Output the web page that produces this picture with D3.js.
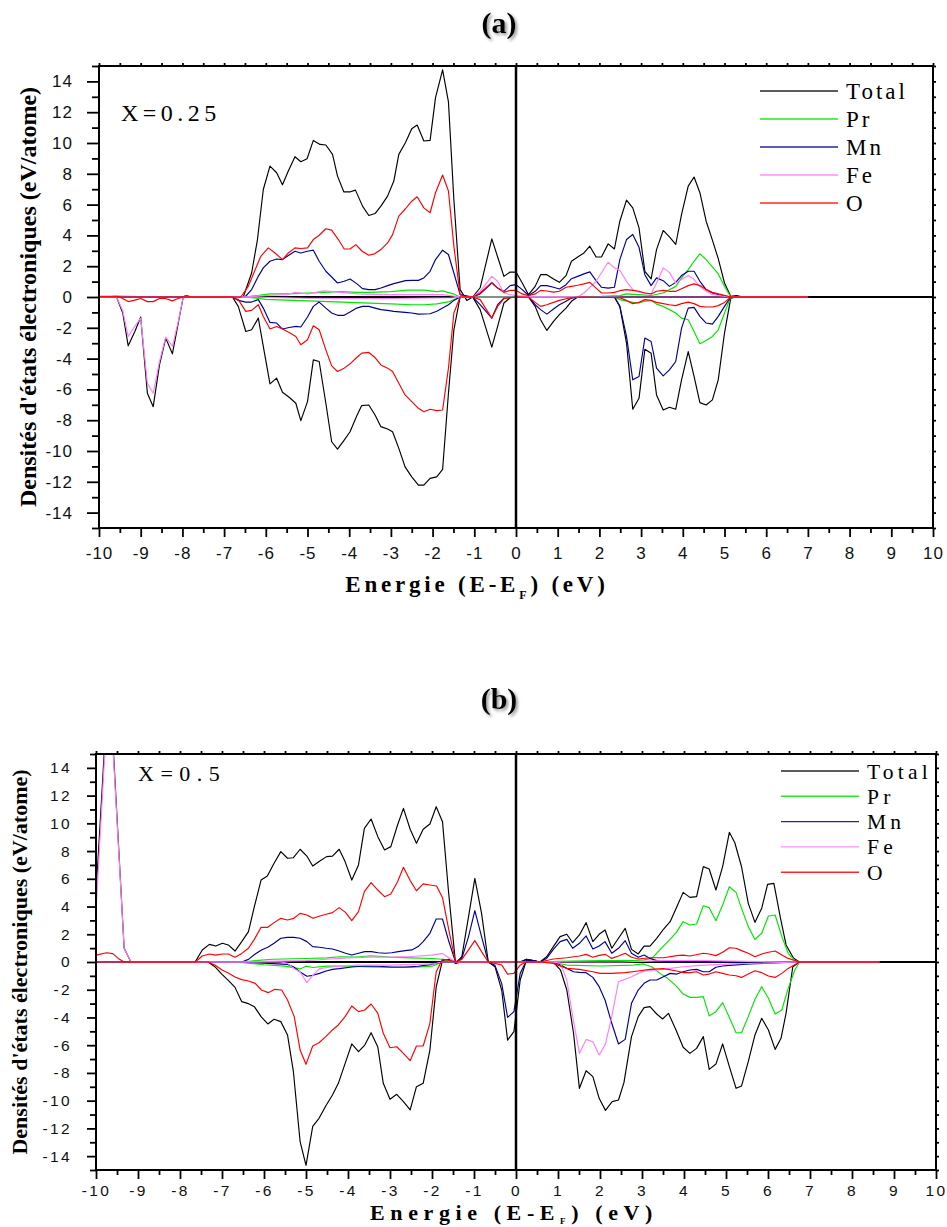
<!DOCTYPE html>
<html><head><meta charset="utf-8">
<script src="https://cdn.jsdelivr.net/npm/d3@7"></script>
<style>body{margin:0;background:#fff}svg{display:block}</style>
</head><body>
<svg id="c" width="947" height="1227"></svg>
<script>
// ---------- DATA : Panel (a) X = 0.25  ([E (eV), DOS]) ----------
const a_total_up = [[-10,0],[-9.58,0.05],[-8.0,0],[-7.9,0.1],[-7.8,0],[-6.54,0],[-6.34,1.56],[-6.20,3.73],[-6.06,6.98],[-5.90,8.5],[-5.74,8.07],[-5.60,7.29],[-5.46,8.18],[-5.30,9.11],[-5.16,8.78],[-5.01,8.98],[-4.86,10.17],[-4.70,9.91],[-4.56,9.87],[-4.40,9.26],[-4.28,7.85],[-4.13,6.83],[-3.97,6.83],[-3.85,6.94],[-3.68,5.90],[-3.53,5.29],[-3.38,5.42],[-3.24,5.90],[-3.08,6.55],[-2.93,7.53],[-2.81,9.26],[-2.65,10.03],[-2.50,10.93],[-2.37,11.17],[-2.21,10.13],[-2.06,10.17],[-1.93,12.95],[-1.76,14.75],[-1.62,12.67],[-1.49,6.33],[-1.34,0.48],[-1.18,-0.22],[-1.04,0],[-0.86,0.6],[-0.58,3.77],[-0.44,2.6],[-0.29,1.34],[-0.14,1.62],[0,1.62],[0.15,0.91],[0.30,0.15],[0.46,0.69],[0.59,1.45],[0.74,1.45],[0.90,1.17],[1.04,0.95],[1.20,1.39],[1.33,2.32],[1.48,2.60],[1.63,2.86],[1.77,3.30],[1.92,2.60],[2.05,2.60],[2.21,3.45],[2.36,3.12],[2.49,4.92],[2.65,6.29],[2.80,5.79],[2.95,4.49],[3.09,1.67],[3.24,1.17],[3.37,3.08],[3.53,4.32],[3.68,3.90],[3.83,3.41],[3.97,5.36],[4.13,7.20],[4.27,7.79],[4.41,6.77],[4.56,4.92],[4.71,3.69],[4.85,2.49],[5.00,0.91],[5.15,0.04],[5.29,0.1],[5.45,0],[7,0]];
const a_total_dn = [[-10,0],[-9.58,0],[-9.43,-1.04],[-9.30,-3.17],[-9.14,-2.24],[-9.00,-1.30],[-8.84,-6.25],[-8.70,-7.12],[-8.55,-4.41],[-8.40,-2.67],[-8.24,-3.69],[-8.10,-1.69],[-7.98,0],[-6.80,0],[-6.66,-0.61],[-6.48,-2.24],[-6.34,-2.13],[-6.18,-1.37],[-6.06,-3.21],[-5.90,-5.64],[-5.74,-5.27],[-5.60,-6.19],[-5.44,-6.51],[-5.28,-6.9],[-5.16,-8.03],[-5.00,-6.79],[-4.86,-4.08],[-4.72,-4.19],[-4.56,-6.9],[-4.42,-9.4],[-4.28,-9.88],[-4.12,-9.29],[-3.98,-8.75],[-3.82,-7.73],[-3.70,-7.05],[-3.53,-7.01],[-3.38,-7.66],[-3.24,-8.42],[-3.08,-8.57],[-2.96,-8.75],[-2.81,-9.83],[-2.66,-11.03],[-2.50,-11.68],[-2.34,-12.22],[-2.21,-12.22],[-2.06,-11.78],[-1.90,-11.68],[-1.76,-11.2],[-1.62,-6.25],[-1.49,-2.13],[-1.34,0],[-1.04,0],[-0.86,-0.82],[-0.58,-3.26],[-0.44,-1.91],[-0.29,-0.39],[-0.14,-0.05],[0,0],[0.30,0],[0.46,-0.61],[0.59,-1.48],[0.74,-2.17],[0.90,-1.58],[1.04,-1.15],[1.20,-0.72],[1.33,-0.28],[1.48,0],[2.36,0],[2.49,-0.61],[2.65,-2.99],[2.80,-7.29],[2.95,-6.58],[3.09,-3.39],[3.24,-3.65],[3.37,-6.36],[3.53,-7.34],[3.68,-7.16],[3.83,-7.29],[3.97,-5.38],[4.13,-3.54],[4.27,-5.16],[4.41,-6.86],[4.56,-7.01],[4.71,-6.68],[4.85,-5.38],[5.00,-2.34],[5.15,-0.07],[5.29,0],[7,0]];
const a_pr_up = [[-10,0],[-6.5,0],[-6.2,0.1],[-5.9,0.2],[-5.5,0.2],[-5.0,0.25],[-4.6,0.3],[-4.2,0.35],[-3.8,0.3],[-3.5,0.3],[-3.0,0.35],[-2.6,0.45],[-2.2,0.45],[-1.9,0.35],[-1.76,0.4],[-1.5,0.2],[-1.34,0],[2.0,0],[2.05,0.04],[2.49,0.09],[2.65,0.2],[2.95,0.15],[3.24,0.1],[3.53,0.26],[3.83,0.69],[3.97,1.24],[4.13,1.78],[4.27,2.32],[4.41,2.80],[4.56,2.43],[4.71,1.95],[4.85,1.50],[5.0,0.69],[5.15,0],[7,0]];
const a_pr_dn = [[-10,0],[-6.5,0],[-6.0,-0.15],[-5.5,-0.2],[-5.0,-0.25],[-4.5,-0.3],[-4.0,-0.35],[-3.5,-0.4],[-3.0,-0.45],[-2.5,-0.5],[-2.2,-0.5],[-1.9,-0.45],[-1.6,-0.3],[-1.34,0],[2.36,0],[2.49,-0.17],[2.80,-0.35],[2.95,-0.39],[3.09,-0.28],[3.24,-0.22],[3.37,-0.46],[3.53,-0.61],[3.68,-0.82],[3.83,-1.04],[3.97,-1.37],[4.13,-1.48],[4.27,-2.24],[4.41,-3.04],[4.56,-2.82],[4.71,-2.56],[4.85,-2.13],[5.0,-1.04],[5.15,0],[7,0]];
const a_mn_up = [[-10,0],[-6.50,0],[-6.34,0.48],[-6.18,1.34],[-6.06,1.89],[-5.90,2.32],[-5.74,2.47],[-5.60,2.43],[-5.46,2.69],[-5.30,2.97],[-5.16,2.86],[-5.00,2.97],[-4.86,3.04],[-4.72,2.32],[-4.56,1.67],[-4.42,1.30],[-4.28,0.91],[-4.12,1.02],[-3.98,1.17],[-3.82,0.87],[-3.68,0.54],[-3.53,0.48],[-3.38,0.48],[-3.24,0.58],[-3.08,0.74],[-2.93,0.87],[-2.81,0.95],[-2.65,1.06],[-2.50,1.08],[-2.34,1.08],[-2.21,1.24],[-2.06,1.67],[-1.93,2.43],[-1.76,3.04],[-1.62,2.76],[-1.49,1.56],[-1.34,0.15],[-1.04,0],[-0.86,0.2],[-0.58,0.91],[-0.44,0.58],[-0.29,0.37],[-0.14,0.74],[0,0.80],[0.15,0.48],[0.30,0.1],[0.46,0.37],[0.59,0.74],[0.74,0.74],[0.90,0.63],[1.04,0.52],[1.20,0.80],[1.33,1.19],[1.48,1.34],[1.63,1.50],[1.77,1.63],[1.92,1.06],[2.05,0.63],[2.21,0.58],[2.36,0.63],[2.49,2.43],[2.65,3.73],[2.80,4.06],[2.95,3.23],[3.09,1.45],[3.24,0.74],[3.37,1.24],[3.53,1.06],[3.68,0.69],[3.83,0.95],[3.97,1.39],[4.13,1.67],[4.27,1.67],[4.41,1.02],[4.56,0.48],[4.71,0.26],[4.85,0.15],[5.15,0],[7,0]];
const a_mn_dn = [[-10,0],[-6.80,0],[-6.66,-0.22],[-6.48,-0.33],[-6.34,-0.33],[-6.18,-0.17],[-6.06,-0.72],[-5.90,-1.65],[-5.74,-1.69],[-5.60,-2.08],[-5.44,-1.98],[-5.28,-1.91],[-5.16,-1.95],[-5.00,-1.30],[-4.86,-0.61],[-4.72,-0.33],[-4.56,-0.72],[-4.42,-1.04],[-4.28,-1.19],[-4.12,-1.19],[-3.98,-0.98],[-3.82,-0.72],[-3.68,-0.61],[-3.53,-0.61],[-3.38,-0.72],[-3.24,-0.82],[-3.08,-0.87],[-2.93,-0.93],[-2.66,-1.0],[-2.50,-1.04],[-2.34,-1.11],[-2.06,-1.09],[-1.90,-0.93],[-1.76,-0.72],[-1.62,-0.5],[-1.49,-0.22],[-1.34,0],[-1.04,0],[-0.86,-0.5],[-0.58,-1.37],[-0.44,-0.5],[-0.29,-0.07],[0,0],[0.30,0],[0.46,-0.5],[0.59,-0.82],[0.74,-1.11],[0.90,-0.78],[1.04,-0.5],[1.20,-0.28],[1.33,-0.07],[1.48,0],[2.36,0],[2.49,-0.61],[2.65,-2.56],[2.80,-5.38],[2.95,-5.16],[3.09,-2.67],[3.24,-2.89],[3.37,-4.62],[3.53,-5.12],[3.68,-4.73],[3.83,-4.19],[3.97,-2.02],[4.13,-0.72],[4.27,-0.67],[4.41,-1.26],[4.56,-1.69],[4.71,-1.76],[4.85,-1.26],[5.00,-0.61],[5.15,0],[7,0]];
const a_fe_up = [[-10,0],[-8.0,0],[-7.9,0.1],[-7.8,0],[-6.5,0],[-6.0,0.1],[-5.5,0.15],[-5.3,0.3],[-5.0,0.2],[-4.6,0.4],[-4.2,0.3],[-3.8,0.2],[-3.2,0.15],[-2.5,0.15],[-2.0,0.15],[-1.76,0.15],[-1.34,0],[-1.04,0],[-0.86,0.37],[-0.58,1.34],[-0.44,1.02],[-0.29,0.26],[-0.14,0.15],[0,0.1],[0.30,0.02],[1.48,0],[1.63,0.26],[1.92,1.02],[2.21,2.26],[2.36,1.89],[2.49,1.73],[2.65,1.02],[2.80,0.48],[2.95,0.3],[3.09,0.26],[3.24,0.2],[3.37,0.91],[3.53,1.89],[3.68,1.60],[3.83,0.91],[3.97,1.13],[4.13,1.39],[4.27,1.13],[4.41,0.69],[4.56,0.37],[4.71,0.15],[5.15,0],[7,0]];
const a_fe_dn = [[-10,0],[-9.58,0],[-9.43,-0.9],[-9.30,-2.56],[-9.14,-1.9],[-9.00,-1.37],[-8.84,-5.6],[-8.70,-6.25],[-8.55,-4.2],[-8.40,-2.6],[-8.24,-3.2],[-8.10,-1.6],[-7.98,0],[-6.5,0],[-5.0,-0.08],[-3.0,-0.1],[-1.5,-0.05],[-1.34,0],[7,0]];
const a_o_up = [[-10,0.05],[-9.6,0.05],[-9.5,0],[-8.0,0],[-7.9,0.1],[-7.8,0],[-6.6,0],[-6.42,0.69],[-6.27,1.67],[-6.12,2.64],[-5.94,3.19],[-5.78,2.86],[-5.60,2.43],[-5.46,2.86],[-5.30,3.19],[-5.16,3.15],[-5.00,3.19],[-4.86,3.73],[-4.72,4.01],[-4.56,4.43],[-4.42,4.34],[-4.26,3.73],[-4.12,3.12],[-3.98,3.12],[-3.84,3.40],[-3.69,2.97],[-3.53,2.71],[-3.38,2.82],[-3.24,3.08],[-3.08,3.51],[-2.96,4.05],[-2.81,5.25],[-2.65,5.73],[-2.50,6.22],[-2.37,6.51],[-2.21,5.79],[-2.06,5.47],[-1.93,6.77],[-1.76,7.92],[-1.62,6.88],[-1.49,3.30],[-1.34,0.15],[-1.18,0],[-1.04,0],[-0.86,0.26],[-0.58,0.95],[-0.44,0.58],[-0.29,0.3],[-0.14,0.43],[0,0.43],[0.15,0.2],[0.30,0.08],[0.46,0.2],[0.59,0.43],[0.74,0.39],[0.90,0.32],[1.04,0.37],[1.20,0.63],[1.33,0.69],[1.48,0.76],[1.63,0.85],[1.77,0.95],[1.92,0.58],[2.05,0.26],[2.21,0.26],[2.36,0.3],[2.49,0.41],[2.65,0.48],[2.80,0.43],[2.95,0.37],[3.09,0.26],[3.24,0.2],[3.37,0.37],[3.53,0.43],[3.68,0.37],[3.83,0.37],[3.97,0.54],[4.13,0.74],[4.27,0.85],[4.41,0.74],[4.56,0.48],[4.71,0.3],[4.85,0.2],[5.15,0],[7,0]];
const a_o_dn = [[-10,0],[-9.5,0],[-9.30,-0.3],[-9.14,-0.2],[-9.0,-0.1],[-8.84,-0.3],[-8.70,-0.3],[-8.55,-0.1],[-8.40,-0.1],[-8.24,-0.25],[-8.10,-0.1],[-7.98,0],[-6.80,0],[-6.66,-0.17],[-6.48,-0.93],[-6.34,-0.87],[-6.18,-0.50],[-6.06,-1.26],[-5.90,-2.08],[-5.74,-1.91],[-5.60,-2.08],[-5.44,-2.30],[-5.28,-2.56],[-5.16,-3.10],[-5.00,-2.78],[-4.86,-1.87],[-4.72,-2.13],[-4.56,-3.43],[-4.42,-4.47],[-4.28,-4.84],[-4.12,-4.62],[-3.98,-4.34],[-3.82,-3.93],[-3.70,-3.64],[-3.53,-3.60],[-3.38,-3.93],[-3.24,-4.41],[-3.08,-4.62],[-2.96,-4.84],[-2.81,-5.60],[-2.66,-6.36],[-2.50,-6.79],[-2.34,-7.23],[-2.21,-7.45],[-2.06,-7.29],[-1.90,-7.38],[-1.76,-7.34],[-1.62,-4.62],[-1.49,-1.04],[-1.34,0],[-1.04,0],[-0.86,-0.17],[-0.58,-1.37],[-0.44,-0.61],[-0.29,-0.1],[0,0],[0.30,0],[0.46,-0.35],[0.59,-0.61],[0.74,-0.5],[0.90,-0.35],[1.04,-0.22],[1.20,-0.11],[1.48,0],[2.49,-0.05],[2.65,-0.22],[2.80,-0.43],[2.95,-0.35],[3.09,-0.17],[3.24,-0.22],[3.37,-0.35],[3.53,-0.43],[3.68,-0.5],[3.83,-0.56],[3.97,-0.43],[4.13,-0.33],[4.27,-0.43],[4.41,-0.61],[4.56,-0.65],[4.71,-0.65],[4.85,-0.56],[5.00,-0.35],[5.15,0],[7,0]];

// ---------- DATA : Panel (b) X = 0.5 ----------
const b_total_up = [[-10,4.9],[-9.69,21],[-9.33,1.0],[-9.17,0],[-7.64,0],[-7.47,0.87],[-7.30,1.27],[-7.15,1.15],[-6.99,1.35],[-6.85,1.23],[-6.69,0.79],[-6.53,1.47],[-6.37,2.19],[-6.23,3.99],[-6.07,5.91],[-5.92,6.20],[-5.76,7.12],[-5.60,7.96],[-5.44,7.48],[-5.30,7.52],[-5.14,8.13],[-4.98,7.64],[-4.84,6.92],[-4.67,7.28],[-4.51,7.60],[-4.37,7.64],[-4.21,8.13],[-4.07,7.24],[-3.91,5.91],[-3.75,7.0],[-3.61,9.64],[-3.45,10.31],[-3.29,9.04],[-3.13,8.08],[-2.98,8.32],[-2.82,9.88],[-2.68,11.08],[-2.52,9.57],[-2.37,8.56],[-2.21,9.57],[-2.05,9.95],[-1.90,11.2],[-1.75,10.12],[-1.61,5.19],[-1.44,-0.1],[-1.29,0.38],[-1.13,3.27],[-0.98,6.03],[-0.82,3.51],[-0.66,0],[0.10,0],[0.25,0.19],[0.41,0.1],[0.57,0],[0.73,0.38],[0.89,1.11],[1.05,1.83],[1.21,2.0],[1.35,1.39],[1.51,1.95],[1.67,2.84],[1.83,1.47],[1.98,2.0],[2.12,2.31],[2.28,0.99],[2.44,1.71],[2.60,2.43],[2.75,0.91],[2.91,0.58],[3.05,1.15],[3.19,1.15],[3.35,1.71],[3.51,2.36],[3.67,2.91],[3.83,3.99],[3.98,5.02],[4.14,4.66],[4.30,4.71],[4.46,6.88],[4.60,6.71],[4.76,5.19],[4.92,6.88],[5.08,9.35],[5.21,8.6],[5.37,6.87],[5.53,4.23],[5.69,2.86],[5.85,3.87],[5.99,5.6],[6.14,5.67],[6.29,3.27],[6.43,1.23],[6.61,0.27],[6.75,0],[8.65,0]];
const b_total_dn = [[-10,0],[-7.33,0],[-7.17,-0.34],[-7.0,-0.89],[-6.85,-1.32],[-6.69,-1.83],[-6.53,-2.86],[-6.39,-2.98],[-6.23,-3.22],[-6.07,-3.94],[-5.91,-4.47],[-5.76,-4.13],[-5.60,-4.30],[-5.44,-5.26],[-5.30,-7.91],[-5.14,-12.96],[-5.0,-14.66],[-4.84,-11.85],[-4.69,-11.27],[-4.53,-10.38],[-4.37,-9.59],[-4.23,-8.75],[-4.07,-7.33],[-3.91,-5.91],[-3.75,-6.47],[-3.60,-5.99],[-3.45,-5.10],[-3.29,-6.13],[-3.16,-8.75],[-3.0,-9.90],[-2.84,-9.54],[-2.68,-10.07],[-2.52,-10.67],[-2.37,-8.99],[-2.21,-8.75],[-2.05,-6.35],[-1.90,-1.80],[-1.75,0.12],[-1.60,0.19],[-1.44,-0.1],[-1.29,0],[-0.66,0],[-0.50,-0.34],[-0.34,-2.04],[-0.20,-5.63],[-0.05,-5.02],[0.10,-1.30],[0.25,0.14],[0.41,0.1],[0.57,0],[0.89,0],[1.06,-0.58],[1.21,-2.02],[1.37,-5.14],[1.51,-9.11],[1.67,-7.84],[1.83,-8.27],[1.98,-9.83],[2.13,-10.7],[2.29,-10.07],[2.44,-9.95],[2.57,-8.70],[2.75,-5.38],[2.91,-3.94],[3.05,-3.29],[3.19,-3.22],[3.35,-3.75],[3.49,-4.11],[3.63,-3.70],[3.81,-4.90],[3.98,-6.15],[4.14,-6.59],[4.30,-6.23],[4.46,-5.38],[4.60,-7.74],[4.76,-7.36],[4.92,-5.91],[5.08,-7.55],[5.24,-9.11],[5.37,-8.94],[5.53,-7.19],[5.69,-5.26],[5.85,-4.06],[6.01,-4.90],[6.17,-6.30],[6.31,-5.50],[6.43,-3.70],[6.59,-0.34],[6.75,0],[8.65,0]];
const b_pr_up = [[-10,0],[-6.5,0],[-6.2,0.1],[-5.8,0.2],[-5.0,0.25],[-4.5,0.3],[-4.2,0.38],[-3.8,0.35],[-3.45,0.45],[-3.0,0.35],[-2.5,0.3],[-2.0,0.25],[-1.75,0.2],[-1.44,0],[0.6,0],[1.0,0.05],[2.0,0.1],[2.8,0.1],[3.05,0.15],[3.23,0.26],[3.51,1.15],[3.67,1.63],[3.83,2.19],[3.98,2.91],[4.14,2.67],[4.30,2.74],[4.46,4.06],[4.60,3.92],[4.76,2.98],[4.92,4.11],[5.08,5.43],[5.24,5.02],[5.37,3.87],[5.53,2.55],[5.69,1.63],[5.85,2.07],[6.01,3.32],[6.17,3.39],[6.33,1.83],[6.48,0.63],[6.64,0.1],[6.75,0],[8.65,0]];
const b_pr_dn = [[-10,0],[-7.0,0],[-6.5,-0.05],[-6.0,-0.2],[-5.5,-0.3],[-5.14,-0.5],[-5.0,-0.3],[-4.84,-0.4],[-4.5,-0.3],[-4.0,-0.3],[-3.5,-0.35],[-3.0,-0.4],[-2.5,-0.4],[-2.0,-0.3],[-1.75,0],[0.6,0],[0.89,-0.05],[1.21,-0.22],[2.0,-0.29],[2.79,-0.22],[3.03,-0.14],[3.23,-0.34],[3.43,-0.82],[3.59,-1.13],[3.83,-1.78],[3.98,-2.31],[4.14,-2.55],[4.30,-2.55],[4.46,-2.50],[4.60,-3.89],[4.76,-3.58],[4.92,-2.93],[5.08,-4.01],[5.24,-5.10],[5.37,-5.10],[5.53,-3.94],[5.69,-2.69],[5.85,-1.78],[6.01,-2.62],[6.17,-3.75],[6.33,-3.46],[6.48,-1.90],[6.64,-0.58],[6.75,0],[8.65,0]];
const b_mn_up = [[-10,0],[-6.53,0],[-6.37,0.19],[-6.21,0.58],[-6.06,0.87],[-5.91,1.06],[-5.76,1.35],[-5.60,1.71],[-5.44,1.78],[-5.29,1.78],[-5.14,1.71],[-4.98,1.47],[-4.84,1.11],[-4.68,1.06],[-4.52,0.99],[-4.37,0.94],[-4.21,0.79],[-4.06,0.63],[-3.91,0.50],[-3.75,0.63],[-3.60,0.75],[-3.44,0.75],[-3.28,0.67],[-3.12,0.63],[-2.96,0.67],[-2.80,0.75],[-2.64,0.82],[-2.48,0.87],[-2.33,1.11],[-2.21,1.47],[-2.05,2.07],[-1.90,3.10],[-1.75,3.10],[-1.61,1.59],[-1.44,0],[-1.29,0.26],[-1.13,1.83],[-0.98,3.70],[-0.82,1.83],[-0.66,0],[0.10,0],[0.25,0.19],[0.41,0.1],[0.57,0],[0.73,0.26],[0.89,0.91],[1.05,1.47],[1.21,1.63],[1.35,0.99],[1.51,1.35],[1.67,1.88],[1.83,0.94],[1.98,1.15],[2.12,1.47],[2.28,0.63],[2.44,0.99],[2.60,1.54],[2.75,0.63],[2.91,0.34],[3.05,0.5],[3.19,0.26],[3.35,0.1],[3.55,0],[8.65,0]];
const b_mn_dn = [[-10,0],[-6.53,0],[-5.90,-0.1],[-5.44,-0.17],[-5.29,-0.36],[-5.14,-0.72],[-4.98,-1.03],[-4.84,-0.96],[-4.68,-0.82],[-4.52,-0.65],[-4.37,-0.53],[-4.21,-0.48],[-3.91,-0.36],[-3.60,-0.29],[-3.28,-0.31],[-2.96,-0.36],[-2.64,-0.36],[-2.33,-0.31],[-2.05,-0.19],[-1.75,0],[-0.66,0],[-0.50,-0.24],[-0.34,-1.56],[-0.20,-3.99],[-0.05,-3.58],[0.10,-0.82],[0.25,0.1],[0.41,0],[0.89,0],[1.06,-0.22],[1.21,-0.46],[1.37,-0.70],[1.51,-0.75],[1.67,-0.77],[1.83,-1.11],[1.98,-1.78],[2.12,-2.74],[2.28,-4.42],[2.44,-5.91],[2.60,-5.58],[2.75,-2.98],[2.91,-2.02],[3.05,-1.54],[3.19,-1.30],[3.35,-1.30],[3.51,-1.06],[3.67,-0.82],[3.83,-0.87],[3.98,-0.70],[4.14,-0.58],[4.30,-0.53],[4.46,-0.70],[4.60,-0.70],[4.76,-0.38],[4.92,-0.29],[5.08,-0.24],[5.57,-0.14],[6.75,0],[8.65,0]];
const b_fe_up = [[-10,3.7],[-9.69,20.5],[-9.33,1.0],[-9.17,0],[-6.5,0],[-6.0,0.05],[-5.0,0.1],[-4.5,0.2],[-4.0,0.3],[-3.5,0.35],[-3.0,0.35],[-2.5,0.4],[-2.0,0.5],[-1.75,0.62],[-1.6,0.3],[-1.44,0],[2.5,0],[3.0,0.05],[3.5,0.1],[4.5,0.1],[5.5,0.05],[6.75,0],[8.65,0]];
const b_fe_dn = [[-10,0],[-5.6,0],[-5.44,-0.1],[-5.29,-0.46],[-5.14,-0.72],[-4.98,-1.49],[-4.84,-0.96],[-4.68,-0.48],[-4.4,-0.36],[-3.8,-0.22],[-3.0,-0.22],[-2.0,-0.14],[-1.75,0],[0.89,0],[1.06,-0.1],[1.21,-1.30],[1.35,-3.94],[1.51,-6.59],[1.67,-5.58],[1.83,-5.75],[1.98,-6.71],[2.13,-5.91],[2.28,-3.94],[2.44,-1.42],[2.60,-1.25],[2.75,-1.06],[2.91,-0.82],[3.05,-0.65],[3.35,-0.58],[3.67,-0.46],[3.98,-0.34],[4.38,-0.24],[5.17,-0.14],[6.75,0],[8.65,0]];
const b_o_up = [[-10,0.5],[-9.75,0.67],[-9.6,0.6],[-9.47,0.26],[-9.33,0],[-7.64,0],[-7.47,0.43],[-7.30,0.58],[-7.15,0.5],[-6.99,0.58],[-6.85,0.58],[-6.69,0.34],[-6.53,0.62],[-6.37,0.99],[-6.23,1.63],[-6.07,2.5],[-5.91,2.5],[-5.76,2.84],[-5.60,3.15],[-5.44,3.03],[-5.29,3.15],[-5.14,3.51],[-4.98,3.39],[-4.83,3.15],[-4.67,3.32],[-4.52,3.44],[-4.37,3.56],[-4.21,3.92],[-4.06,3.58],[-3.91,2.98],[-3.75,3.63],[-3.61,5.07],[-3.45,5.72],[-3.29,5.19],[-3.13,4.71],[-2.98,4.90],[-2.82,5.79],[-2.68,6.83],[-2.52,5.87],[-2.37,5.14],[-2.21,5.63],[-2.05,5.55],[-1.89,5.48],[-1.75,4.64],[-1.60,2.31],[-1.44,0],[-1.29,0.19],[-1.13,0.87],[-0.98,1.54],[-0.82,0.75],[-0.66,0],[0.57,0],[0.89,0.22],[1.21,0.31],[1.51,0.43],[1.67,0.55],[1.83,0.34],[1.98,0.48],[2.13,0.55],[2.28,0.26],[2.44,0.43],[2.60,0.63],[2.75,0.34],[2.91,0.22],[3.19,0.31],[3.51,0.31],[3.83,0.46],[3.98,0.5],[4.14,0.43],[4.46,0.63],[4.60,0.58],[4.76,0.46],[4.92,0.70],[5.08,1.03],[5.24,0.99],[5.37,0.82],[5.53,0.63],[5.69,0.38],[5.85,0.58],[6.01,0.70],[6.17,0.79],[6.33,0.5],[6.48,0.26],[6.75,0],[8.65,0]];
const b_o_dn = [[-10,0],[-7.33,0],[-7.17,-0.22],[-7.0,-0.58],[-6.85,-0.79],[-6.69,-1.08],[-6.53,-1.27],[-6.37,-1.37],[-6.21,-1.54],[-6.06,-2.02],[-5.90,-2.21],[-5.74,-1.97],[-5.58,-2.02],[-5.44,-2.74],[-5.28,-3.94],[-5.14,-6.35],[-5.0,-7.38],[-4.84,-6.06],[-4.69,-5.82],[-4.53,-5.38],[-4.37,-4.90],[-4.23,-4.54],[-4.07,-3.94],[-3.91,-3.17],[-3.75,-3.58],[-3.60,-3.46],[-3.45,-3.03],[-3.29,-3.70],[-3.16,-5.14],[-3.0,-6.18],[-2.84,-6.11],[-2.68,-6.59],[-2.52,-7.12],[-2.37,-6.06],[-2.21,-6.06],[-2.05,-4.42],[-1.90,-0.70],[-1.75,0.19],[-1.60,0.14],[-1.44,0],[-0.66,0],[-0.50,-0.1],[-0.34,-0.22],[-0.20,-0.87],[-0.05,-0.82],[0.10,-0.22],[0.25,0],[0.57,0],[0.89,-0.1],[1.21,-0.46],[1.51,-0.53],[1.83,-0.70],[2.0,-0.82],[2.28,-0.82],[2.60,-0.77],[2.91,-0.65],[3.19,-0.53],[3.51,-0.48],[3.83,-0.65],[3.98,-0.77],[4.14,-0.77],[4.30,-0.70],[4.46,-0.94],[4.60,-0.87],[4.76,-0.70],[4.92,-0.82],[5.08,-0.94],[5.24,-0.99],[5.37,-1.11],[5.53,-0.87],[5.69,-0.63],[5.85,-0.77],[6.01,-1.01],[6.17,-1.11],[6.33,-0.82],[6.48,-0.46],[6.75,0],[8.65,0]];

// ---------- LABELS / TICKS ----------
const seriesNames = ["Total","Pr","Mn","Fe","O"];
const seriesColors = ["#000000","#00e600","#000090","#ff7dff","#ff0000"];
const xMajor = [-10,-9,-8,-7,-6,-5,-4,-3,-2,-1,0,1,2,3,4,5,6,7,8,9,10];
const xMinor = [-9.5,-8.5,-7.5,-6.5,-5.5,-4.5,-3.5,-2.5,-1.5,-0.5,0.5,1.5,2.5,3.5,4.5,5.5,6.5,7.5,8.5,9.5];
const yMajor = [-14,-12,-10,-8,-6,-4,-2,0,2,4,6,8,10,12,14];
const yMinor = [-15,-13,-11,-9,-7,-5,-3,-1,1,3,5,7,9,11,13,15];
const xDomain = [-10,10], yDomain = [-15,15];
const yTitle = "Densités d'états électroniques (eV/atome)";

const panels = [
  {id:"a", tag:"(a)", comp:"X=0.25",
   series:[[a_total_up,a_total_dn],[a_pr_up,a_pr_dn],[a_mn_up,a_mn_dn],[a_fe_up,a_fe_dn],[a_o_up,a_o_dn]],
   L:99,R:933,T:66,B:528, tagX:499,tagY:33, compX:121,compY:121,compFs:24,compLs:4.5,
   tickFs:17,tickLs:1, yMaj:12,yMin:7, xlabY:559, ylabRight:73,
   xtX:477,xtY:592,xtFs:23,xtLs:3.8, subFs:12, subDy:7, ytX:36,ytFs:24,
   legX1:760,legX2:838,legTX:846,legY0:91,legDy:28,legFs:23,legLs:3},
  {id:"b", tag:"(b)", comp:"X = 0 . 5",
   series:[[b_total_up,b_total_dn],[b_pr_up,b_pr_dn],[b_mn_up,b_mn_dn],[b_fe_up,b_fe_dn],[b_o_up,b_o_dn]],
   L:96,R:936,T:754,B:1170, tagX:499,tagY:709, compX:138,compY:780.5,compFs:22,compLs:0.5,
   tickFs:15.5,tickLs:2.4, yMaj:9,yMin:6, xlabY:1196, ylabRight:72,
   xtX:514,xtY:1219.5,xtFs:22,xtLs:5.6, subFs:9, subDy:4, ytX:27,ytFs:22,
   legX1:781,legX2:859,legTX:867,legY0:771,legDy:25.3,legFs:21.5,legLs:4.2}
];

const svg = d3.select("#c");
const defs = svg.append("defs");
const f = defs.append("filter").attr("id","sh").attr("x","-20%").attr("y","-20%").attr("width","150%").attr("height","150%");
f.append("feDropShadow").attr("dx",2).attr("dy",2).attr("stdDeviation",1.6).attr("flood-color","#777").attr("flood-opacity",0.75);

panels.forEach(p => {
  const x = d3.scaleLinear().domain(xDomain).range([p.L,p.R]);
  const y = d3.scaleLinear().domain(yDomain).range([p.B,p.T]);
  const g = svg.append("g");
  defs.append("clipPath").attr("id","clip"+p.id).append("rect")
    .attr("x",p.L).attr("y",p.T).attr("width",p.R-p.L).attr("height",p.B-p.T);

  g.append("line").attr("x1",p.L).attr("x2",p.R).attr("y1",y(0)).attr("y2",y(0))
    .attr("stroke","#000").attr("stroke-width",2.2);

  const line = d3.line().x(d=>x(d[0])).y(d=>y(d[1]));
  const cg = g.append("g").attr("clip-path","url(#clip"+p.id+")");
  p.series.forEach((pair,i) => {
    pair.forEach(arr => {
      cg.append("path").datum(arr).attr("d",line).attr("fill","none")
        .attr("stroke",seriesColors[i]).attr("stroke-width",1.15).attr("stroke-linejoin","round");
    });
  });

  g.append("line").attr("x1",x(0)).attr("x2",x(0)).attr("y1",p.T).attr("y2",p.B)
    .attr("stroke","#000").attr("stroke-width",2.5);

  const fmt = d => String(d);
  const ax = g.append("g").attr("transform",`translate(0,${p.B})`)
    .call(d3.axisBottom(x).tickValues(xMajor).tickSize(9).tickPadding(9).tickFormat(fmt));
  g.append("g").attr("transform",`translate(0,${p.B})`)
    .call(d3.axisBottom(x).tickValues(xMinor).tickSize(5).tickFormat(""));
  g.append("g").attr("transform",`translate(${p.L},0)`)
    .call(d3.axisLeft(y).tickValues(yMajor).tickSize(p.yMaj).tickPadding(p.L-p.ylabRight-p.yMaj).tickFormat(fmt));
  g.append("g").attr("transform",`translate(${p.L},0)`)
    .call(d3.axisLeft(y).tickValues(yMinor).tickSize(p.yMin).tickFormat(""));
  g.append("g").attr("transform",`translate(0,${p.T})`)
    .call(d3.axisTop(x).tickValues(xMajor.concat(xMinor)).tickSize(3).tickFormat(""));
  g.append("g").attr("transform",`translate(${p.R},0)`)
    .call(d3.axisRight(y).tickValues(yMajor.concat(yMinor)).tickSize(3).tickFormat(""));
  g.selectAll(".domain").remove();
  g.selectAll(".tick line").attr("stroke","#000").attr("stroke-width",1.8);
  g.selectAll(".tick text").attr("font-family","'Liberation Sans', Arial, sans-serif")
    .attr("font-size",p.tickFs).attr("letter-spacing",p.tickLs).attr("fill","#111");
  ax.selectAll(".tick text").attr("dy",null).attr("y", p.xlabY - p.B);

  g.append("rect").attr("x",p.L).attr("y",p.T).attr("width",p.R-p.L).attr("height",p.B-p.T)
    .attr("fill","none").attr("stroke","#000").attr("stroke-width",2);

  svg.append("text").attr("x",p.tagX).attr("y",p.tagY).attr("text-anchor","middle")
    .attr("font-family","'Liberation Serif', 'Times New Roman', serif").attr("font-weight","bold")
    .attr("font-size",30).attr("filter","url(#sh)").text(p.tag);

  svg.append("text").attr("x",p.compX).attr("y",p.compY)
    .attr("font-family","'Liberation Serif', 'Times New Roman', serif")
    .attr("font-size",p.compFs).attr("letter-spacing",p.compLs).text(p.comp);

  const xt = svg.append("text").attr("x",p.xtX).attr("y",p.xtY).attr("text-anchor","middle")
    .attr("font-family","'Liberation Serif', 'Times New Roman', serif").attr("font-weight","bold")
    .attr("font-size",p.xtFs).attr("letter-spacing",p.xtLs);
  xt.append("tspan").text("Energie (E-E");
  xt.append("tspan").attr("font-size",p.subFs).attr("dy",p.subDy).text("F");
  xt.append("tspan").attr("dy",-p.subDy).text(") (eV)");

  svg.append("text").attr("transform",`translate(${p.ytX},${(p.T+p.B)/2}) rotate(-90)`)
    .attr("text-anchor","middle")
    .attr("font-family","'Liberation Serif', 'Times New Roman', serif").attr("font-weight","bold")
    .attr("font-size",p.ytFs).text(yTitle);

  const lg = svg.append("g");
  seriesNames.forEach((n,i) => {
    const yy = p.legY0 + i*p.legDy;
    lg.append("line").attr("x1",p.legX1).attr("x2",p.legX2).attr("y1",yy).attr("y2",yy)
      .attr("stroke",seriesColors[i]).attr("stroke-width",1.4).attr("opacity",0.85);
    lg.append("text").attr("x",p.legTX).attr("y",yy+7.5)
      .attr("font-family","'Liberation Serif', 'Times New Roman', serif")
      .attr("font-size",p.legFs).attr("letter-spacing",p.legLs).text(n);
  });
});
</script>
</body></html>
